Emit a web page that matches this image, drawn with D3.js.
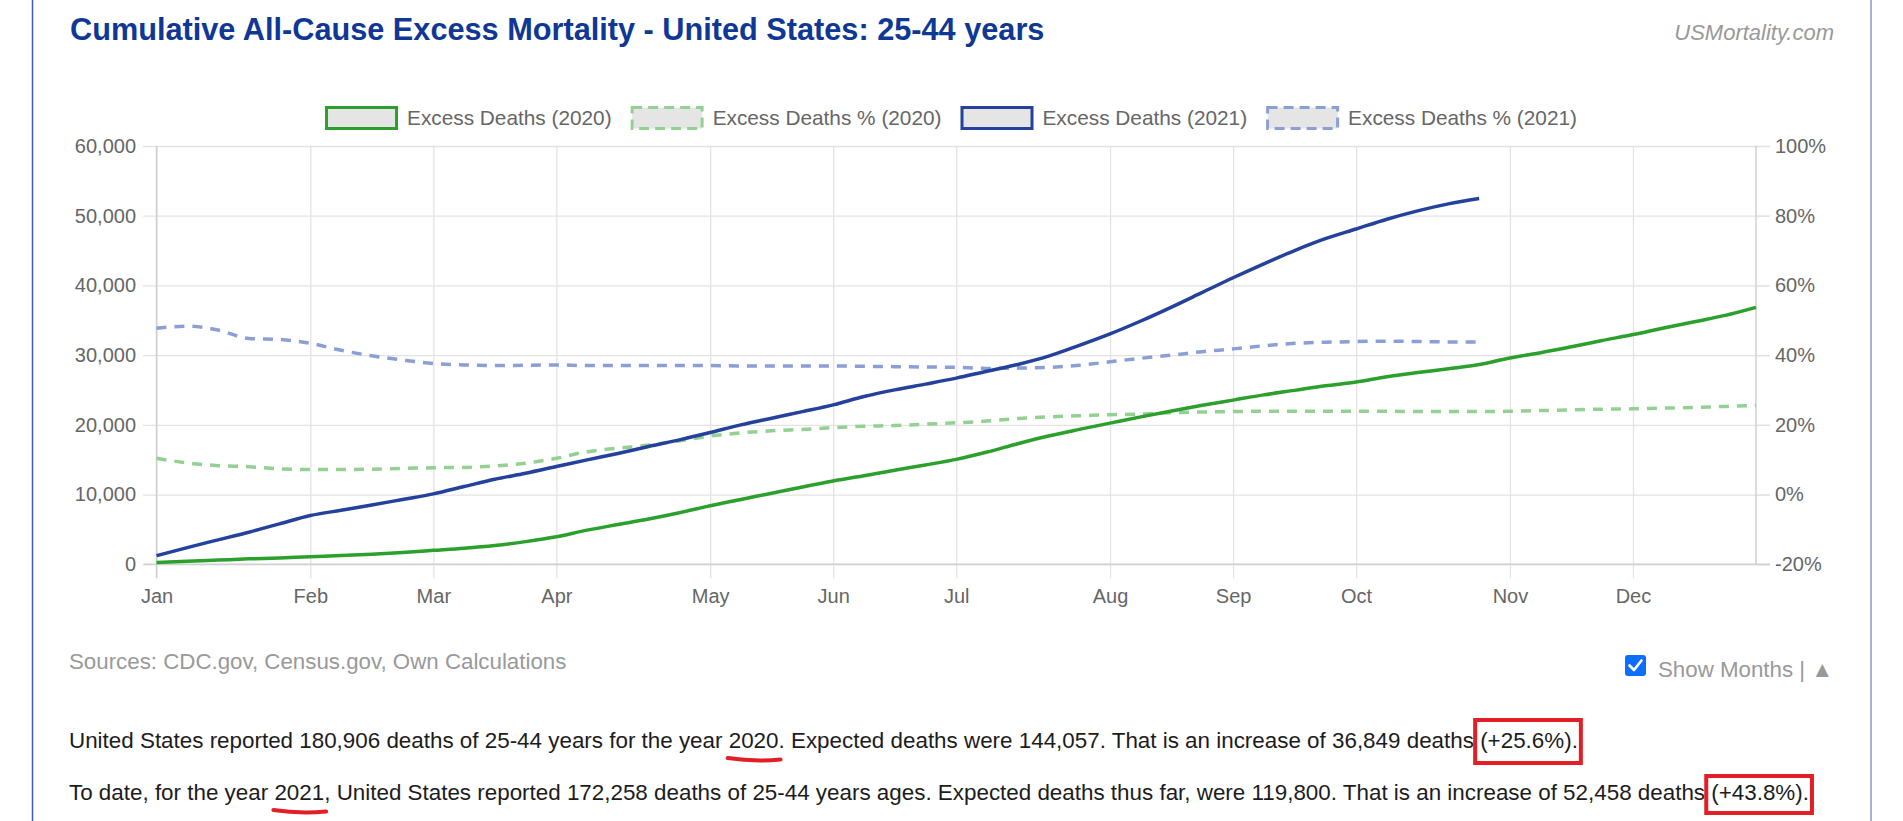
<!DOCTYPE html>
<html>
<head>
<meta charset="utf-8">
<script src="https://cdn.jsdelivr.net/npm/d3@7"></script>
<style>
  body { margin: 0; background: #fff; font-family: "Liberation Sans", Arial, sans-serif; }
  svg text { font-family: "Liberation Sans", Arial, sans-serif; }
</style>
</head>
<body>
<svg id="chart" width="1903" height="821"></svg>
<script>
// Week categories (x axis) and month tick labels
var weeks = [1, 2, 3, 4, 5, 6, 7, 8, 9, 10, 11, 12, 13, 14, 15, 16, 17, 18, 19, 20, 21, 22, 23, 24, 25, 26, 27,
  28, 29, 30, 31, 32, 33, 34, 35, 36, 37, 38, 39, 40, 41, 42, 43, 44, 45, 46, 47, 48, 49, 50, 51, 52, 53];
var monthLabels = ["Jan", "Feb", "Mar", "Apr", "May", "Jun", "Jul", "Aug", "Sep", "Oct", "Nov", "Dec"];
var monthWeeks = [1, 6, 10, 14, 19, 23, 27, 32, 36, 40, 45, 49];

// Cumulative excess deaths
var deaths2020 = [250, 420, 600, 780, 900, 1100, 1250, 1450, 1700, 2000, 2300, 2700, 3250, 3950, 4900, 5700,
  6500, 7400, 8400, 9300, 10200, 11100, 11950, 12700, 13500, 14250, 15050, 16100, 17300, 18400, 19350, 20250,
  21150, 22000, 22800, 23550, 24300, 24950, 25600, 26150, 26900, 27500, 28050, 28650, 29600, 30350, 31200,
  32100, 32950, 33900, 34800, 35700, 36849];
var deaths2021 = [1240, 2400, 3500, 4600, 5800, 6990, 7750, 8500, 9300, 10100, 11150, 12200, 13060, 14020,
  14980, 15900, 16900, 17850, 18900, 20000, 20960, 21900, 22870, 24060, 25020, 25840, 26700, 27700, 28660,
  29850, 31400, 33050, 34900, 36900, 39000, 41100, 43100, 45000, 46700, 48100, 49500, 50700, 51700, 52458];

// Cumulative excess deaths in percent
var pct2020 = [10.4, 9.1, 8.3, 8.0, 7.4, 7.2, 7.2, 7.3, 7.5, 7.7, 7.8, 8.2, 9.0, 10.4, 12.3, 13.3, 14.2, 15.4,
  16.8, 17.7, 18.3, 18.7, 19.2, 19.6, 19.8, 20.2, 20.6, 21.1, 21.8, 22.3, 22.6, 22.9, 23.1, 23.5, 23.7, 23.8,
  23.9, 23.9, 23.9, 23.9, 23.9, 23.8, 23.8, 23.8, 23.9, 24.1, 24.3, 24.5, 24.6, 24.8, 25.0, 25.3, 25.6];
var pct2021 = [47.7, 48.3, 47.2, 44.8, 44.5, 43.4, 41.4, 39.8, 38.6, 37.6, 37.2, 37.0, 37.1, 37.2, 37.0, 37.0,
  37.0, 37.0, 37.0, 36.9, 36.9, 36.9, 36.9, 36.8, 36.7, 36.6, 36.5, 36.2, 36.3, 36.5, 37.1, 38.1, 39.1, 40.0,
  41.0, 41.8, 42.7, 43.4, 43.7, 43.9, 44.0, 43.9, 43.8, 43.8];

var deathTicks = [0, 10000, 20000, 30000, 40000, 50000, 60000];
var pctTicks = [-20, 0, 20, 40, 60, 80, 100];

var series = [
  { name: "Excess Deaths (2020)", values: deaths2020, axis: "left", color: "#2ca02c", dash: null },
  { name: "Excess Deaths % (2020)", values: pct2020, axis: "right", color: "#93d193", dash: "10,8" },
  { name: "Excess Deaths (2021)", values: deaths2021, axis: "left", color: "#24419b", dash: null },
  { name: "Excess Deaths % (2021)", values: pct2021, axis: "right", color: "#8a9fd6", dash: "10,8" }
];

var svg = d3.select("#chart");
var plot = { left: 156.5, right: 1756, top: 146, bottom: 564.3 };

var x = d3.scalePoint().domain(weeks).range([plot.left, plot.right]);
var yL = d3.scaleLinear().domain([0, 60000]).range([plot.bottom, plot.top]);
var yR = d3.scaleLinear().domain([-20, 100]).range([plot.bottom, plot.top]);

// page borders
svg.append("line").attr("x1", 32.5).attr("x2", 32.5).attr("y1", 0).attr("y2", 821)
  .attr("stroke", "#3d5cc0").attr("stroke-width", 1.5);
svg.append("line").attr("x1", 1871).attr("x2", 1871).attr("y1", 0).attr("y2", 821)
  .attr("stroke", "#6f7fb8").attr("stroke-width", 1.2);

// Title
svg.append("text").attr("x", 70).attr("y", 40)
  .attr("font-size", 30.7).attr("font-weight", "bold").attr("fill", "#0f3795")
  .text("Cumulative All-Cause Excess Mortality - United States: 25-44 years");
svg.append("text").attr("x", 1834).attr("y", 40).attr("text-anchor", "end")
  .attr("font-size", 22).attr("font-style", "italic").attr("fill", "#999")
  .text("USMortality.com");

// Axes with grid
var gridColor = "#e3e3e3";
var leftAxis = d3.axisLeft(yL).tickValues(deathTicks).tickFormat(d3.format(","))
  .tickSizeInner(-(plot.right - plot.left + 27)).tickSizeOuter(0).tickPadding(7);
var gLeft = svg.append("g").attr("transform", "translate(143,0)").call(leftAxis);

var bottomAxis = d3.axisBottom(x).tickValues(monthWeeks)
  .tickFormat(function(d, i) { return monthLabels[i]; })
  .tickSizeInner(plot.bottom - plot.top + 14).tickSizeOuter(0).tickPadding(10);
var gBottom = svg.append("g").attr("transform", "translate(0," + plot.top + ")").call(bottomAxis);

var rightAxis = d3.axisRight(yR).tickValues(pctTicks).tickFormat(function(d) { return d + "%"; })
  .tickSize(14).tickPadding(5);
var gRight = svg.append("g").attr("transform", "translate(" + plot.right + ",0)").call(rightAxis);

[gLeft, gBottom, gRight].forEach(function(g) {
  g.select(".domain").remove();
  g.selectAll(".tick line").attr("stroke", gridColor).attr("stroke-width", 1.3);
  g.selectAll(".tick text").attr("fill", "#666").attr("font-size", 20)
    .attr("font-family", "'Liberation Sans', Arial, sans-serif");
});

// plot frame lines (slightly darker)
svg.append("line").attr("x1", plot.left - 13).attr("x2", plot.right + 14)
  .attr("y1", plot.bottom).attr("y2", plot.bottom).attr("stroke", "#d0d0d0").attr("stroke-width", 1.5);
svg.append("line").attr("x1", plot.left).attr("x2", plot.left)
  .attr("y1", plot.top).attr("y2", plot.bottom + 14).attr("stroke", "#d0d0d0").attr("stroke-width", 1.5);
svg.append("line").attr("x1", plot.right).attr("x2", plot.right)
  .attr("y1", plot.top).attr("y2", plot.bottom).attr("stroke", "#d0d0d0").attr("stroke-width", 1.5);

// Lines
var lines = svg.append("g").attr("class", "lines");
[1, 3, 2, 0].forEach(function(i) {
  var s = series[i];
  var yS = s.axis === "left" ? yL : yR;
  var line = d3.line()
    .x(function(d, j) { return x(weeks[j]); })
    .y(function(d) { return yS(d); })
    .curve(d3.curveMonotoneX);
  lines.append("path")
    .attr("d", line(s.values))
    .attr("fill", "none")
    .attr("stroke", s.color)
    .attr("stroke-width", 3.5)
    .attr("stroke-dasharray", s.dash);
});

// Legend
var legend = svg.append("g").attr("class", "legend");
var cursor = 0;
series.forEach(function(s) {
  var g = legend.append("g");
  g.append("rect").attr("x", 1.5).attr("y", -10.5).attr("width", 70).attr("height", 21)
    .attr("fill", "#e5e5e5").attr("stroke", s.color).attr("stroke-width", 3)
    .attr("stroke-dasharray", s.dash ? "10,6" : null);
  var t = g.append("text").attr("x", 82).attr("y", 7).attr("font-size", 20.8).attr("fill", "#666").text(s.name);
  var w = 82 + t.node().getComputedTextLength();
  g.attr("transform", "translate(" + cursor + ",118)");
  cursor += w + 19;
});
var legendW = cursor - 19;
legend.attr("transform", "translate(" + (951 - legendW / 2) + ",0)");

// Sources
svg.append("text").attr("x", 69).attr("y", 669).attr("font-size", 22.3).attr("fill", "#999")
  .text("Sources: CDC.gov, Census.gov, Own Calculations");

// Show months checkbox
svg.append("rect").attr("x", 1625).attr("y", 655).attr("width", 21).attr("height", 21).attr("rx", 3)
  .attr("fill", "#0d6efd");
svg.append("path").attr("d", "M1629.5,665.5 L1634,670 L1641.5,660.5").attr("fill", "none")
  .attr("stroke", "#fff").attr("stroke-width", 2.6).attr("stroke-linecap", "round").attr("stroke-linejoin", "round");
svg.append("text").attr("x", 1658).attr("y", 677).attr("font-size", 22.3).attr("fill", "#999")
  .text("Show Months | \u25B2");

// Summary paragraphs
var paragraphs = [
  { y: 748, box: [-28, 43], parts: ["United States reported 180,906 deaths of 25-44 years for the year ", "2020",
    ". Expected deaths were 144,057. That is an increase of 36,849 deaths ", "(+25.6%)."] },
  { y: 800, box: [-24, 37], parts: ["To date, for the year ", "2021", ", United States reported 172,258 deaths of 25-44 years ages. Expected deaths thus far, were 119,800. That is an increase of 52,458 deaths ", "(+43.8%)."] }
];
paragraphs.forEach(function(p) {
  var t = svg.append("text").attr("x", 69).attr("y", p.y).attr("font-size", 22.4).attr("fill", "#1c1c1c");
  var spans = p.parts.map(function(s) { return t.append("tspan").text(s); });
  // red underline under the year
  var yb = spans[1].node().getBBox();
  svg.append("path")
    .attr("d", "M" + (yb.x - 1) + "," + (p.y + 10) + " Q" + (yb.x + yb.width / 2) + "," + (p.y + 14) + " " + (yb.x + yb.width + 2) + "," + (p.y + 11.5))
    .attr("fill", "none").attr("stroke", "#e31e24").attr("stroke-width", 4).attr("stroke-linecap", "round");
  // red box round the percentage
  var pb = spans[3].node().getBBox();
  svg.append("rect").attr("x", pb.x - 5).attr("y", p.y + p.box[0]).attr("width", pb.width + 8).attr("height", p.box[1])
    .attr("fill", "none").attr("stroke", "#e31e24").attr("stroke-width", 4);
});
</script>
</body>
</html>
